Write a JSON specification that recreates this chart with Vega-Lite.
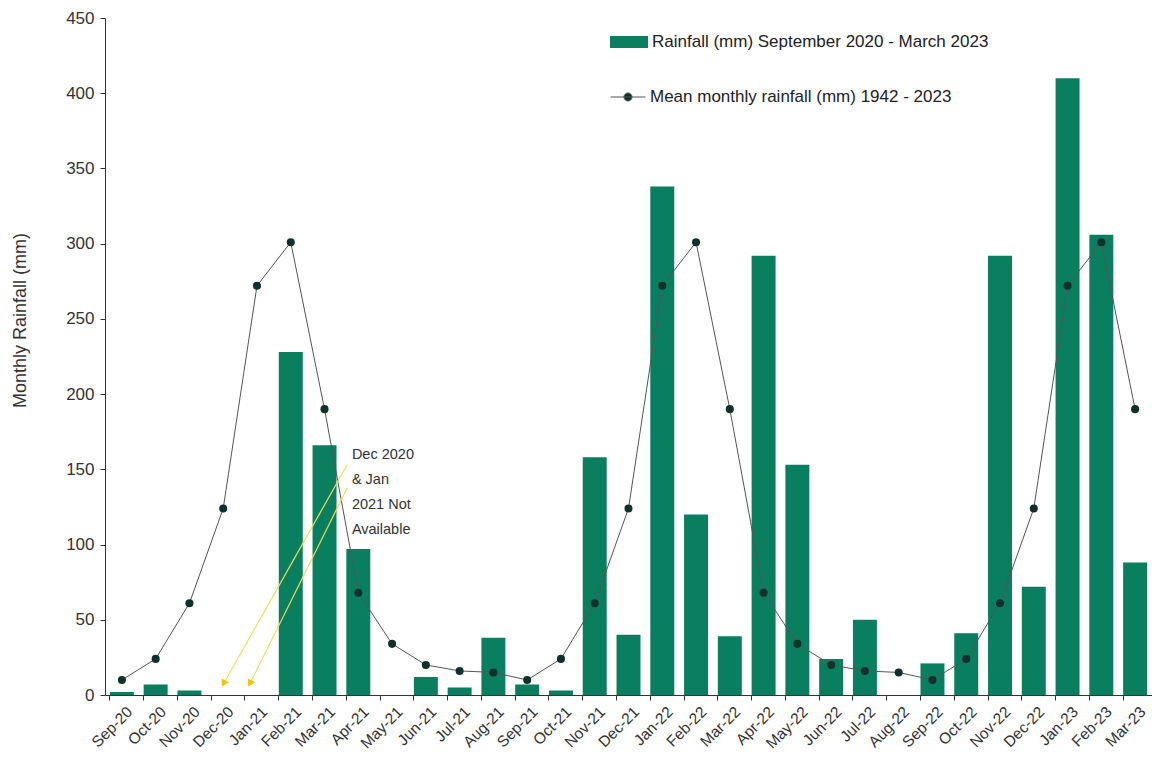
{
  "$schema": "https://vega.github.io/schema/vega-lite/v6.json",
  "width": 1047,
  "height": 677,
  "autosize": {"type": "none"},
  "padding": {"left": 105, "top": 18, "right": 0, "bottom": 63},
  "background": "white",
  "config": {
    "view": {"stroke": null},
    "font": "Liberation Sans",
    "axis": {"grid": false, "domainColor": "#333", "tickColor": "#333", "labelColor": "#333", "titleColor": "#333", "labelFont": "Liberation Sans", "titleFont": "Liberation Sans"},
    "legend": {"padding": 0}
  },
  "datasets": {
    "rain": [
      {"month": "Sep-20", "rain": 2, "mean": 10},
      {"month": "Oct-20", "rain": 7, "mean": 24},
      {"month": "Nov-20", "rain": 3, "mean": 61},
      {"month": "Dec-20", "rain": null, "mean": 124},
      {"month": "Jan-21", "rain": null, "mean": 272},
      {"month": "Feb-21", "rain": 228, "mean": 301},
      {"month": "Mar-21", "rain": 166, "mean": 190},
      {"month": "Apr-21", "rain": 97, "mean": 68},
      {"month": "May-21", "rain": 0, "mean": 34},
      {"month": "Jun-21", "rain": 12, "mean": 20},
      {"month": "Jul-21", "rain": 5, "mean": 16},
      {"month": "Aug-21", "rain": 38, "mean": 15},
      {"month": "Sep-21", "rain": 7, "mean": 10},
      {"month": "Oct-21", "rain": 3, "mean": 24},
      {"month": "Nov-21", "rain": 158, "mean": 61},
      {"month": "Dec-21", "rain": 40, "mean": 124},
      {"month": "Jan-22", "rain": 338, "mean": 272},
      {"month": "Feb-22", "rain": 120, "mean": 301},
      {"month": "Mar-22", "rain": 39, "mean": 190},
      {"month": "Apr-22", "rain": 292, "mean": 68},
      {"month": "May-22", "rain": 153, "mean": 34},
      {"month": "Jun-22", "rain": 24, "mean": 20},
      {"month": "Jul-22", "rain": 50, "mean": 16},
      {"month": "Aug-22", "rain": 0, "mean": 15},
      {"month": "Sep-22", "rain": 21, "mean": 10},
      {"month": "Oct-22", "rain": 41, "mean": 24},
      {"month": "Nov-22", "rain": 292, "mean": 61},
      {"month": "Dec-22", "rain": 72, "mean": 124},
      {"month": "Jan-23", "rain": 410, "mean": 272},
      {"month": "Feb-23", "rain": 306, "mean": 301},
      {"month": "Mar-23", "rain": 88, "mean": 190}
    ],
    "arrows": [
      {"x": 7.17, "y": 153, "x2": 3.5, "y2": 7},
      {"x": 7.17, "y": 137.6, "x2": 4.28, "y2": 7}
    ],
    "heads": [
      {"x": 3.51, "y": 7.6},
      {"x": 4.29, "y": 7.6}
    ],
    "note": [
      {"x": 7.31, "y": 164, "text": ["Dec 2020", "& Jan", "2021 Not", "Available"]}
    ]
  },
  "resolve": {"scale": {"x": "independent"}},
  "layer": [
    {
      "data": {"name": "rain"},
      "layer": [
        {
          "mark": {"type": "bar"},
          "encoding": {
            "x": {"field": "month", "type": "nominal", "sort": null,
              "scale": {"domain": ["Sep-20","Oct-20","Nov-20","Dec-20","Jan-21","Feb-21","Mar-21","Apr-21","May-21","Jun-21","Jul-21","Aug-21","Sep-21","Oct-21","Nov-21","Dec-21","Jan-22","Feb-22","Mar-22","Apr-22","May-22","Jun-22","Jul-22","Aug-22","Sep-22","Oct-22","Nov-22","Dec-22","Jan-23","Feb-23","Mar-23"], "paddingInner": 0.29, "paddingOuter": 0.145},
              "axis": {"title": null, "labelAngle": -45, "labelFontSize": 15.5, "bandPosition": 0, "labelOffset": 3, "tickSize": 5, "labelPadding": 4}},
            "y": {"field": "rain", "type": "quantitative", "scale": {"domain": [0, 450], "nice": false},
              "axis": {"title": "Monthly Rainfall (mm)", "values": [0, 50, 100, 150, 200, 250, 300, 350, 400, 450], "labelFontSize": 17, "tickSize": 5, "labelPadding": 6, "titleFontSize": 18, "titleFontWeight": "normal", "titleX": -85, "titleY": 302, "titleBaseline": "middle"}},
            "fill": {"datum": "Rainfall (mm) September 2020 - March 2023", "type": "nominal",
              "scale": {"range": ["#0a7f5f"]},
              "legend": {"title": null, "orient": "none", "legendX": 505, "legendY": 5, "symbolType": "M-1,-0.32H1V0.32H-1Z", "symbolSize": 1444, "symbolStrokeWidth": 0, "labelFontSize": 17, "labelColor": "#222", "labelOffset": 4, "labelLimit": 0}}
          }
        },
        {
          "mark": {"type": "line", "strokeWidth": 1},
          "encoding": {
            "x": {"field": "month", "type": "nominal", "sort": null},
            "y": {"field": "mean", "type": "quantitative"},
            "stroke": {"datum": "Mean monthly rainfall (mm) 1942 - 2023", "type": "nominal",
              "scale": {"range": ["#555555"]},
              "legend": {"title": null, "orient": "none", "legendX": 505, "legendY": 61, "symbolType": "M-1,0H1M-0.23,0A0.23,0.23,0,1,0,0.23,0A0.23,0.23,0,1,0,-0.23,0Z", "symbolSize": 1225, "symbolFillColor": "#10302e", "symbolStrokeWidth": 1, "labelFontSize": 17, "labelColor": "#222", "labelOffset": 4, "labelLimit": 0}}
          }
        },
        {
          "mark": {"type": "point", "filled": true, "size": 65, "color": "#10302e", "opacity": 1},
          "encoding": {
            "x": {"field": "month", "type": "nominal", "sort": null},
            "y": {"field": "mean", "type": "quantitative"}
          }
        }
      ]
    },
    {
      "layer": [
        {
          "data": {"name": "note"},
          "mark": {"type": "text", "align": "left", "baseline": "top", "fontSize": 14.5, "lineHeight": 25, "color": "#333"},
          "encoding": {
            "x": {"field": "x", "type": "quantitative", "scale": {"domain": [0, 31], "nice": false, "zero": false}, "axis": null},
            "y": {"field": "y", "type": "quantitative"},
            "text": {"field": "text"}
          }
        },
        {
          "data": {"name": "arrows"},
          "mark": {"type": "rule", "color": "#f0dc5a", "strokeWidth": 1.2},
          "encoding": {
            "x": {"field": "x", "type": "quantitative"},
            "x2": {"field": "x2"},
            "y": {"field": "y", "type": "quantitative"},
            "y2": {"field": "y2"}
          }
        },
        {
          "data": {"name": "heads"},
          "mark": {"type": "point", "shape": "triangle-up", "filled": true, "color": "#f2c40f", "size": 70, "angle": 208, "opacity": 1},
          "encoding": {
            "x": {"field": "x", "type": "quantitative"},
            "y": {"field": "y", "type": "quantitative"}
          }
        }
      ]
    }
  ]
}
